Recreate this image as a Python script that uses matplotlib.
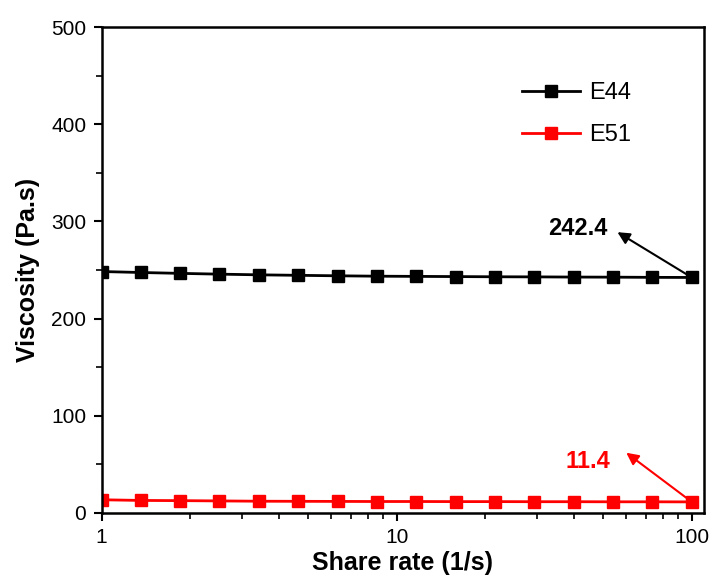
import numpy as np
import matplotlib
matplotlib.use("Agg")
import matplotlib.pyplot as plt
from matplotlib.ticker import MultipleLocator, LogLocator, NullFormatter, FixedLocator, FixedFormatter

plt.rcParams['font.family'] = ['Liberation Sans', 'DejaVu Sans']

# shear rate points (1/s)
shear_rate = [1, 1.36, 1.85, 2.51, 3.41, 4.64, 6.31, 8.58, 11.66, 15.85,
              21.54, 29.29, 39.81, 54.12, 73.56, 100]
e44 = [248.5, 247.5, 246.6, 245.8, 245.1, 244.6, 244.1, 243.7, 243.5, 243.3,
       243.1, 243.0, 242.8, 242.7, 242.5, 242.4]
e51 = [13.6, 12.9, 12.7, 12.4, 12.1, 12.0, 11.9, 11.8, 11.8, 11.7,
       11.7, 11.6, 11.6, 11.5, 11.5, 11.4]

fig = plt.figure(figsize=(7.1, 5.78), dpi=100)
ax = fig.add_axes([0.143, 0.1125, 0.8485, 0.8405])

ax.plot(shear_rate, e44, color="black", marker="s", markersize=8, lw=2, label="E44")
ax.plot(shear_rate, e51, color="red", marker="s", markersize=8, lw=2, label="E51")

ax.set_xscale("log")
ax.set_xlim(1, 110)
ax.set_ylim(0, 500)

ax.xaxis.set_major_locator(FixedLocator([1, 10, 100]))
ax.xaxis.set_major_formatter(FixedFormatter(["1", "10", "100"]))
ax.xaxis.set_minor_locator(LogLocator(base=10, subs=np.arange(2, 10)))
ax.xaxis.set_minor_formatter(NullFormatter())
ax.yaxis.set_major_locator(MultipleLocator(100))
ax.yaxis.set_minor_locator(MultipleLocator(50))

ax.tick_params(which="major", direction="out", length=6, width=1.5, labelsize=15, pad=5)
ax.tick_params(which="minor", direction="out", length=4, width=1.2)
for s in ax.spines.values():
    s.set_linewidth(1.8)

ax.set_xlabel("Share rate (1/s)", fontsize=18, fontweight="bold", labelpad=3)
ax.set_ylabel("Viscosity (Pa.s)", fontsize=18, fontweight="bold", labelpad=8)

leg = ax.legend(loc="upper right", bbox_to_anchor=(0.915, 0.93), frameon=False,
                fontsize=17, handlelength=2.45, handletextpad=0.4, labelspacing=0.85)

# annotations for the last points
ax.annotate("", xy=(56, 289), xytext=(shear_rate[-1], e44[-1]),
            arrowprops=dict(arrowstyle="-|>", color="black", lw=1.5, mutation_scale=18,
                            shrinkA=0, shrinkB=0))
ax.text(41, 293, "242.4", fontsize=17, fontweight="bold", ha="center", va="center", color="black")
ax.annotate("", xy=(60, 62), xytext=(shear_rate[-1], e51[-1]),
            arrowprops=dict(arrowstyle="-|>", color="red", lw=1.5, mutation_scale=18,
                            shrinkA=0, shrinkB=0))
ax.text(44.5, 53, "11.4", fontsize=17, fontweight="bold", ha="center", va="center", color="red")

fig.savefig("out.png", dpi=100)
